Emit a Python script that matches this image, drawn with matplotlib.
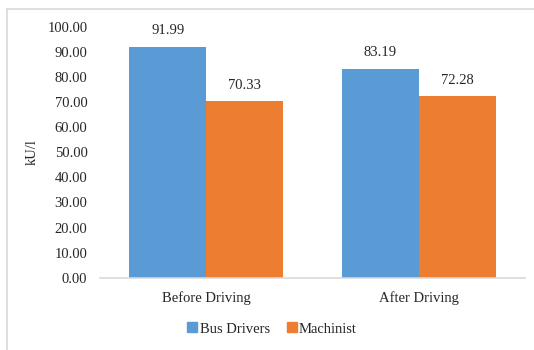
import matplotlib
matplotlib.use("Agg")
import matplotlib.pyplot as plt
import numpy as np
from matplotlib.lines import Line2D

categories = ["Before Driving", "After Driving"]
series_names = ["Bus Drivers", "Machinist"]
bus_drivers = [91.99, 83.19]
machinist = [70.33, 72.28]
yticks = [0, 10, 20, 30, 40, 50, 60, 70, 80, 90, 100]
ylabel = "kU/l"

colors = ["#5B9BD5", "#ED7D31"]
plt.rcParams['font.family'] = ['Liberation Serif', 'DejaVu Serif']
txtc = "#262626"

fig = plt.figure(figsize=(5.34, 3.5), dpi=100)
ax = fig.add_axes([100/534, 1-277.7/350, 425/534, (277.7-27)/350])

x = np.arange(len(categories))
w = 0.362
for i, (vals, c, name) in enumerate(zip([bus_drivers, machinist], colors, series_names)):
    pos = x + (i - 0.5) * w
    bars = ax.bar(pos, vals, width=w, color=c, label=name, zorder=2)
    for b, v in zip(bars, vals):
        ax.annotate(f"{v:.2f}", (b.get_x() + b.get_width()/2, v),
                    xytext=(0, 7), textcoords="offset points",
                    ha="center", va="bottom", fontsize=10.5, color=txtc)

ax.set_xlim(-0.5, 1.5)
ax.set_ylim(0, 100)
ax.set_yticks(yticks)
ax.set_yticklabels([f"{t:.2f}" for t in yticks], fontsize=10.5, color=txtc)
ax.set_xticks(x)
ax.set_xticklabels(categories, fontsize=10.5, color=txtc)
ax.tick_params(axis="y", length=0, pad=9)
ax.tick_params(axis="x", length=0, pad=10)
for s in ["top", "right", "left"]:
    ax.spines[s].set_visible(False)
ax.spines["bottom"].set_color("#d9d9d9")
ax.spines["bottom"].set_linewidth(1.2)
ax.set_ylabel(ylabel, fontsize=10.5, color=txtc, labelpad=6)

handles = [Line2D([], [], marker="s", linestyle="none", markersize=7,
                  markerfacecolor=c, markeredgecolor=c) for c in colors]
leg = fig.legend(handles, series_names, loc="center", bbox_to_anchor=(271/534, 1-329/350),
                 ncol=2, frameon=False, prop={"family": "Liberation Serif", "size": 10.5},
                 handletextpad=0.0, columnspacing=1.0, handlelength=1.0)
for t in leg.get_texts():
    t.set_color(txtc)

# outer chart border (left and top edges visible)
fig.add_artist(Line2D([7/534, 7/534], [0, 1-9/350], color="#d9d9d9", lw=1.2,
                      transform=fig.transFigure))
fig.add_artist(Line2D([7/534, 1], [1-9/350, 1-9/350], color="#d9d9d9", lw=1.2,
                      transform=fig.transFigure))

fig.savefig("out.png", dpi=100)
